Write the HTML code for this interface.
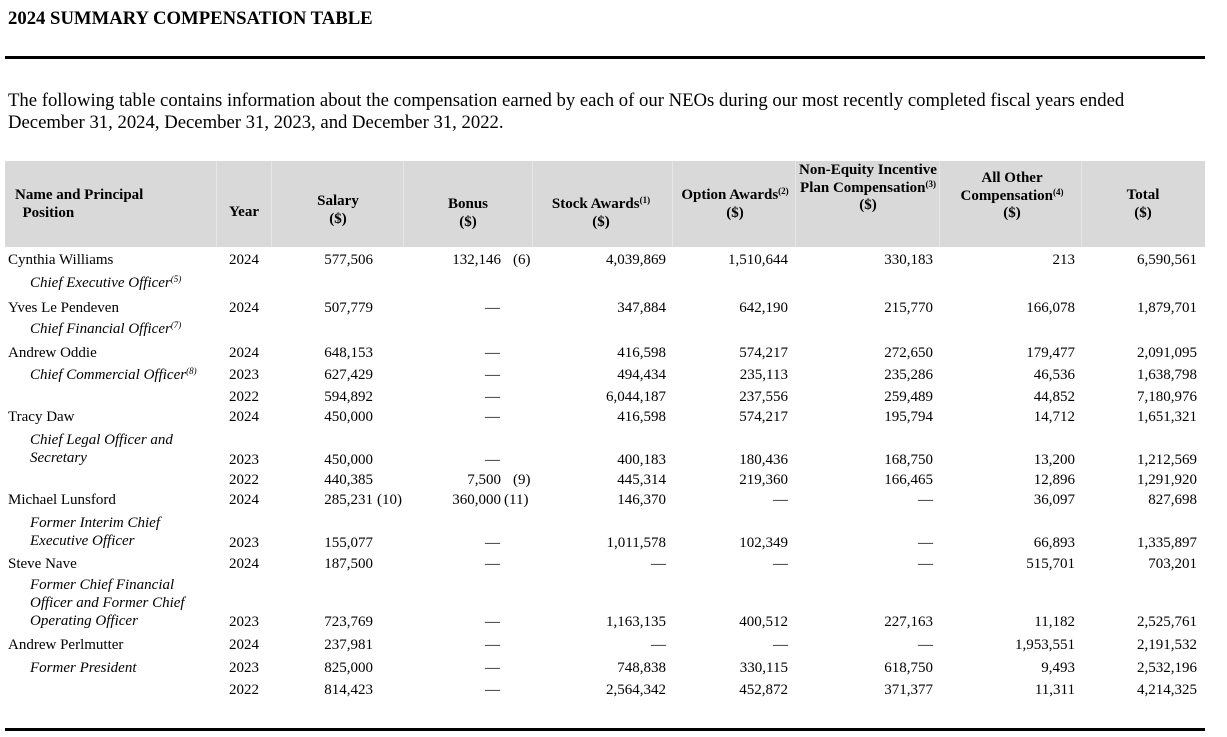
<!DOCTYPE html>
<html><head><meta charset="utf-8">
<style>
body{margin:0;width:1227px;height:737px;background:#fff;position:relative;overflow:hidden;font-family:"Liberation Serif",serif;color:#000}
.a{position:absolute;white-space:nowrap;font-size:15px;line-height:18px;padding-top:2px}
.r{position:absolute;white-space:nowrap;font-size:15px;line-height:18px;text-align:right;padding-top:2px}
.i{font-style:italic}
.h{position:absolute;font-weight:bold;font-size:15px;line-height:17.5px;text-align:center;white-space:nowrap}
sup{font-size:9px;line-height:0;vertical-align:5px}
.hr{position:absolute;left:5px;width:1200px;background:#000}
</style></head><body>
<div class="a" style="left:8px;top:7px;font-size:18.7px;line-height:20px;font-weight:bold">2024 SUMMARY COMPENSATION TABLE</div>
<div class="hr" style="top:56px;height:3px"></div>
<div class="a" style="left:8px;top:88px;font-size:18.7px;line-height:22px;white-space:normal;width:1210px">The following table contains information about the compensation earned by each of our NEOs during our most recently completed fiscal years ended<br>December 31, 2024, December 31, 2023, and December 31, 2022.</div>
<div style="position:absolute;left:5px;top:161px;width:1200px;height:86px;background:#d9d9d9"></div>
<div style="position:absolute;left:216px;top:161px;width:1px;height:86px;background:#e6e6e6"></div>
<div style="position:absolute;left:271px;top:161px;width:1px;height:86px;background:#e6e6e6"></div>
<div style="position:absolute;left:403px;top:161px;width:1px;height:86px;background:#e6e6e6"></div>
<div style="position:absolute;left:532px;top:161px;width:1px;height:86px;background:#e6e6e6"></div>
<div style="position:absolute;left:672px;top:161px;width:1px;height:86px;background:#e6e6e6"></div>
<div style="position:absolute;left:795px;top:161px;width:1px;height:86px;background:#e6e6e6"></div>
<div style="position:absolute;left:939px;top:161px;width:1px;height:86px;background:#e6e6e6"></div>
<div style="position:absolute;left:1081px;top:161px;width:1px;height:86px;background:#e6e6e6"></div>

<div class="h" style="left:15px;top:187px;text-align:left">Name and Principal<br>&nbsp;&nbsp;Position</div>
<div class="h" style="left:214px;width:60px;top:204px">Year</div>
<div class="h" style="left:288px;width:100px;top:193px">Salary<br>($)</div>
<div class="h" style="left:418px;width:100px;top:196px">Bonus<br>($)</div>
<div class="h" style="left:531px;width:140px;top:196px">Stock Awards<sup>(1)</sup><br>($)</div>
<div class="h" style="left:665px;width:140px;top:187px">Option Awards<sup>(2)</sup><br>($)</div>
<div class="h" style="left:790px;width:156px;top:162px">Non-Equity Incentive<br>Plan Compensation<sup>(3)</sup><br>($)</div>
<div class="h" style="left:935px;width:154px;top:170px">All Other<br>Compensation<sup>(4)</sup><br>($)</div>
<div class="h" style="left:1093px;width:100px;top:187px">Total<br>($)</div>

<div class="a" style="left:8px;top:249px">Cynthia Williams</div>
<div class="a" style="left:229px;top:249px">2024</div>
<div class="r" style="right:854px;top:249px">577,506</div>
<div class="r" style="right:726px;top:249px">132,146</div><div class="a" style="left:513px;top:249px">(6)</div>
<div class="r" style="right:561px;top:249px">4,039,869</div>
<div class="r" style="right:439px;top:249px">1,510,644</div>
<div class="r" style="right:294px;top:249px">330,183</div>
<div class="r" style="right:152px;top:249px">213</div>
<div class="r" style="right:30px;top:249px">6,590,561</div>
<div class="a i" style="left:30px;top:272px">Chief Executive Officer<sup>(5)</sup></div>

<div class="a" style="left:8px;top:297px">Yves Le Pendeven</div>
<div class="a" style="left:229px;top:297px">2024</div>
<div class="r" style="right:854px;top:297px">507,779</div>
<div class="a" style="left:485px;top:297px">—</div>
<div class="r" style="right:561px;top:297px">347,884</div>
<div class="r" style="right:439px;top:297px">642,190</div>
<div class="r" style="right:294px;top:297px">215,770</div>
<div class="r" style="right:152px;top:297px">166,078</div>
<div class="r" style="right:30px;top:297px">1,879,701</div>
<div class="a i" style="left:30px;top:318px">Chief Financial Officer<sup>(7)</sup></div>

<div class="a" style="left:8px;top:342px">Andrew Oddie</div>
<div class="a" style="left:229px;top:342px">2024</div>
<div class="r" style="right:854px;top:342px">648,153</div>
<div class="a" style="left:485px;top:342px">—</div>
<div class="r" style="right:561px;top:342px">416,598</div>
<div class="r" style="right:439px;top:342px">574,217</div>
<div class="r" style="right:294px;top:342px">272,650</div>
<div class="r" style="right:152px;top:342px">179,477</div>
<div class="r" style="right:30px;top:342px">2,091,095</div>

<div class="a i" style="left:30px;top:364px">Chief Commercial Officer<sup>(8)</sup></div>
<div class="a" style="left:229px;top:364px">2023</div>
<div class="r" style="right:854px;top:364px">627,429</div>
<div class="a" style="left:485px;top:364px">—</div>
<div class="r" style="right:561px;top:364px">494,434</div>
<div class="r" style="right:439px;top:364px">235,113</div>
<div class="r" style="right:294px;top:364px">235,286</div>
<div class="r" style="right:152px;top:364px">46,536</div>
<div class="r" style="right:30px;top:364px">1,638,798</div>

<div class="a" style="left:229px;top:386px">2022</div>
<div class="r" style="right:854px;top:386px">594,892</div>
<div class="a" style="left:485px;top:386px">—</div>
<div class="r" style="right:561px;top:386px">6,044,187</div>
<div class="r" style="right:439px;top:386px">237,556</div>
<div class="r" style="right:294px;top:386px">259,489</div>
<div class="r" style="right:152px;top:386px">44,852</div>
<div class="r" style="right:30px;top:386px">7,180,976</div>

<div class="a" style="left:8px;top:406px">Tracy Daw</div>
<div class="a" style="left:229px;top:406px">2024</div>
<div class="r" style="right:854px;top:406px">450,000</div>
<div class="a" style="left:485px;top:406px">—</div>
<div class="r" style="right:561px;top:406px">416,598</div>
<div class="r" style="right:439px;top:406px">574,217</div>
<div class="r" style="right:294px;top:406px">195,794</div>
<div class="r" style="right:152px;top:406px">14,712</div>
<div class="r" style="right:30px;top:406px">1,651,321</div>
<div class="a i" style="left:30px;top:429px">Chief Legal Officer and</div>
<div class="a i" style="left:30px;top:447px">Secretary</div>

<div class="a" style="left:229px;top:449px">2023</div>
<div class="r" style="right:854px;top:449px">450,000</div>
<div class="a" style="left:485px;top:449px">—</div>
<div class="r" style="right:561px;top:449px">400,183</div>
<div class="r" style="right:439px;top:449px">180,436</div>
<div class="r" style="right:294px;top:449px">168,750</div>
<div class="r" style="right:152px;top:449px">13,200</div>
<div class="r" style="right:30px;top:449px">1,212,569</div>

<div class="a" style="left:229px;top:469px">2022</div>
<div class="r" style="right:854px;top:469px">440,385</div>
<div class="r" style="right:726px;top:469px">7,500</div><div class="a" style="left:513px;top:469px">(9)</div>
<div class="r" style="right:561px;top:469px">445,314</div>
<div class="r" style="right:439px;top:469px">219,360</div>
<div class="r" style="right:294px;top:469px">166,465</div>
<div class="r" style="right:152px;top:469px">12,896</div>
<div class="r" style="right:30px;top:469px">1,291,920</div>

<div class="a" style="left:8px;top:489px">Michael Lunsford</div>
<div class="a" style="left:229px;top:489px">2024</div>
<div class="r" style="right:854px;top:489px">285,231</div><div class="a" style="left:377px;top:489px">(10)</div>
<div class="r" style="right:726px;top:489px">360,000</div><div class="a" style="left:504px;top:489px">(11)</div>
<div class="r" style="right:561px;top:489px">146,370</div>
<div class="r" style="right:439px;top:489px">—</div>
<div class="r" style="right:294px;top:489px">—</div>
<div class="r" style="right:152px;top:489px">36,097</div>
<div class="r" style="right:30px;top:489px">827,698</div>
<div class="a i" style="left:30px;top:512px">Former Interim Chief</div>
<div class="a i" style="left:30px;top:530px">Executive Officer</div>

<div class="a" style="left:229px;top:532px">2023</div>
<div class="r" style="right:854px;top:532px">155,077</div>
<div class="a" style="left:485px;top:532px">—</div>
<div class="r" style="right:561px;top:532px">1,011,578</div>
<div class="r" style="right:439px;top:532px">102,349</div>
<div class="r" style="right:294px;top:532px">—</div>
<div class="r" style="right:152px;top:532px">66,893</div>
<div class="r" style="right:30px;top:532px">1,335,897</div>

<div class="a" style="left:8px;top:553px">Steve Nave</div>
<div class="a" style="left:229px;top:553px">2024</div>
<div class="r" style="right:854px;top:553px">187,500</div>
<div class="a" style="left:485px;top:553px">—</div>
<div class="r" style="right:561px;top:553px">—</div>
<div class="r" style="right:439px;top:553px">—</div>
<div class="r" style="right:294px;top:553px">—</div>
<div class="r" style="right:152px;top:553px">515,701</div>
<div class="r" style="right:30px;top:553px">703,201</div>
<div class="a i" style="left:30px;top:574px">Former Chief Financial</div>
<div class="a i" style="left:30px;top:592px">Officer and Former Chief</div>
<div class="a i" style="left:30px;top:610px">Operating Officer</div>

<div class="a" style="left:229px;top:611px">2023</div>
<div class="r" style="right:854px;top:611px">723,769</div>
<div class="a" style="left:485px;top:611px">—</div>
<div class="r" style="right:561px;top:611px">1,163,135</div>
<div class="r" style="right:439px;top:611px">400,512</div>
<div class="r" style="right:294px;top:611px">227,163</div>
<div class="r" style="right:152px;top:611px">11,182</div>
<div class="r" style="right:30px;top:611px">2,525,761</div>

<div class="a" style="left:8px;top:634px">Andrew Perlmutter</div>
<div class="a" style="left:229px;top:634px">2024</div>
<div class="r" style="right:854px;top:634px">237,981</div>
<div class="a" style="left:485px;top:634px">—</div>
<div class="r" style="right:561px;top:634px">—</div>
<div class="r" style="right:439px;top:634px">—</div>
<div class="r" style="right:294px;top:634px">—</div>
<div class="r" style="right:152px;top:634px">1,953,551</div>
<div class="r" style="right:30px;top:634px">2,191,532</div>

<div class="a i" style="left:30px;top:657px">Former President</div>
<div class="a" style="left:229px;top:657px">2023</div>
<div class="r" style="right:854px;top:657px">825,000</div>
<div class="a" style="left:485px;top:657px">—</div>
<div class="r" style="right:561px;top:657px">748,838</div>
<div class="r" style="right:439px;top:657px">330,115</div>
<div class="r" style="right:294px;top:657px">618,750</div>
<div class="r" style="right:152px;top:657px">9,493</div>
<div class="r" style="right:30px;top:657px">2,532,196</div>

<div class="a" style="left:229px;top:679px">2022</div>
<div class="r" style="right:854px;top:679px">814,423</div>
<div class="a" style="left:485px;top:679px">—</div>
<div class="r" style="right:561px;top:679px">2,564,342</div>
<div class="r" style="right:439px;top:679px">452,872</div>
<div class="r" style="right:294px;top:679px">371,377</div>
<div class="r" style="right:152px;top:679px">11,311</div>
<div class="r" style="right:30px;top:679px">4,214,325</div>

<div class="hr" style="top:728px;height:3px"></div>
</body></html>
